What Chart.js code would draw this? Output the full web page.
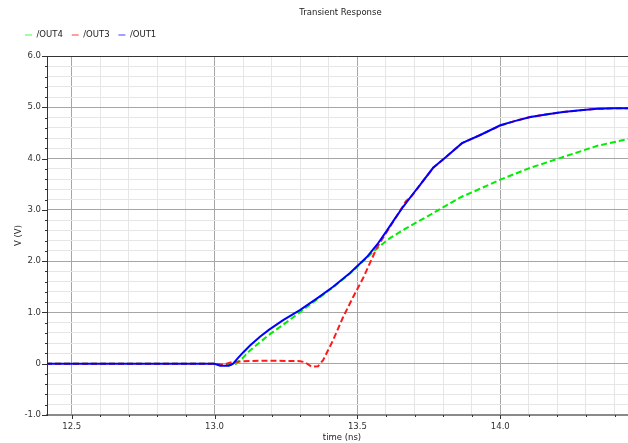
<!DOCTYPE html>
<html>
<head>
<meta charset="utf-8">
<title>Transient Response</title>
<script src="https://cdn.jsdelivr.net/npm/chart.js@4/dist/chart.umd.min.js"></script>
<style>
  html, body { margin: 0; padding: 0; background: #ffffff; }
  #wrap { width: 628px; height: 443px; }
</style>
</head>
<body>
<div id="wrap"><canvas id="c" width="628" height="443"></canvas></div>
<script>
// Simulated node voltages (V) against time (ns)
const timeOut4 = [12.41, 13.00, 13.03, 13.06, 13.075, 13.10, 13.124, 13.19, 13.24, 13.30, 13.36, 13.415, 13.474, 13.51, 13.54, 13.555, 13.58, 13.614, 13.673, 13.754, 13.79, 13.87, 13.905, 14.00, 14.105, 14.22, 14.34, 14.447];
const voltOut4 = [0, 0, -0.02, -0.02, 0, 0.12, 0.26, 0.56, 0.76, 1.01, 1.26, 1.49, 1.76, 1.95, 2.10, 2.18, 2.30, 2.45, 2.65, 2.90, 3.02, 3.27, 3.35, 3.59, 3.82, 4.03, 4.25, 4.38];

const timeOut3 = [12.41, 13.00, 13.03, 13.06, 13.10, 13.20, 13.30, 13.316, 13.34, 13.362, 13.38, 13.415, 13.45, 13.485, 13.52, 13.568, 13.614, 13.64, 13.67, 13.69, 13.72, 13.765, 13.81, 13.866, 13.93, 14.00, 14.05, 14.105, 14.16, 14.22, 14.28, 14.34, 14.40, 14.447];
const voltOut3 = [0, 0, -0.02, 0.03, 0.05, 0.06, 0.05, 0.03, -0.06, -0.05, 0.07, 0.46, 0.91, 1.30, 1.67, 2.26, 2.67, 2.90, 3.17, 3.27, 3.49, 3.82, 4.03, 4.30, 4.46, 4.64, 4.73, 4.81, 4.86, 4.91, 4.94, 4.97, 4.98, 4.98];

const timeOut1 = [12.41, 13.00, 13.02, 13.05, 13.065, 13.08, 13.10, 13.125, 13.16, 13.19, 13.24, 13.30, 13.36, 13.415, 13.474, 13.51, 13.533, 13.57, 13.60, 13.63, 13.66, 13.69, 13.72, 13.765, 13.81, 13.866, 13.93, 14.00, 14.05, 14.105, 14.16, 14.22, 14.28, 14.34, 14.40, 14.447];
const voltOut1 = [0, 0, -0.04, -0.04, 0, 0.10, 0.22, 0.36, 0.53, 0.66, 0.85, 1.05, 1.28, 1.50, 1.77, 1.96, 2.08, 2.33, 2.57, 2.82, 3.06, 3.28, 3.49, 3.82, 4.03, 4.30, 4.46, 4.65, 4.73, 4.81, 4.86, 4.91, 4.94, 4.97, 4.98, 4.98];

const seriesNames = ['/OUT4', '/OUT3', '/OUT1'];
const chartTitle = 'Transient Response';
const xTitle = 'time (ns)';
const yTitle = 'V (V)';

const xMin = 12.4136, xMax = 14.447;
const yMin = -1, yMax = 6;

const FONT = '"DejaVu Sans", "Liberation Sans", sans-serif';
const FONT_SIZE = 8.5;
const lineColors = ['#00ee00', '#ff1a1a', '#0000ff'];
const legendColors = ['#80ff80', '#ff8080', '#8080ff'];

function pts(ts, vs) { return ts.map((t, i) => ({ x: t, y: vs[i] })); }
const near = (a, b) => Math.abs(a - b) < 1e-6;
const isMajorX = v => near(v * 2, Math.round(v * 2));
const isMajorY = v => near(v, Math.round(v));

// Titles, legend, tick marks and the top frame line
const decor = {
  id: 'decor',
  afterDraw(chart) {
    const ctx = chart.ctx;
    const a = chart.chartArea;
    const xs = chart.scales.x, ys = chart.scales.y;
    ctx.save();

    // tick marks (outside the plot)
    ctx.strokeStyle = '#333333';
    ctx.lineWidth = 1;
    xs.ticks.forEach(t => {
      const px = Math.round(xs.getPixelForValue(t.value)) + 0.5;
      const len = isMajorX(t.value) ? 4 : 2;
      ctx.beginPath(); ctx.moveTo(px, a.bottom); ctx.lineTo(px, a.bottom + len); ctx.stroke();
    });
    ys.ticks.forEach(t => {
      const py = Math.round(ys.getPixelForValue(t.value)) + 0.5;
      const len = isMajorY(t.value) ? 5 : 2;
      ctx.beginPath(); ctx.moveTo(a.left - len, py); ctx.lineTo(a.left, py); ctx.stroke();
    });

    // top frame line
    ctx.strokeStyle = '#333333';
    ctx.beginPath(); ctx.moveTo(a.left, Math.round(a.top) + 0.5); ctx.lineTo(a.right, Math.round(a.top) + 0.5); ctx.stroke();

    ctx.fillStyle = '#222222';
    ctx.font = FONT_SIZE + 'px ' + FONT;
    ctx.textBaseline = 'middle';

    // chart title
    ctx.textAlign = 'center';
    ctx.fillText(chartTitle, (a.left + a.right) / 2 + 3, 13);

    // x axis title
    ctx.fillText(xTitle, 342, 438);

    // y axis title
    ctx.save();
    ctx.translate(19, (a.top + a.bottom) / 2);
    ctx.rotate(-Math.PI / 2);
    ctx.fillText(yTitle, 0, 0);
    ctx.restore();

    // legend
    ctx.textAlign = 'left';
    seriesNames.forEach((name, i) => {
      const x0 = 25 + i * 46.7;
      ctx.strokeStyle = legendColors[i];
      ctx.lineWidth = 1.5;
      ctx.beginPath(); ctx.moveTo(x0, 35); ctx.lineTo(x0 + 7, 35); ctx.stroke();
      ctx.fillStyle = '#222222';
      ctx.fillText(name, x0 + 11.5, 35);
    });

    ctx.restore();
  }
};

new Chart(document.getElementById('c'), {
  type: 'line',
  data: {
    datasets: [
      { label: seriesNames[0], data: pts(timeOut4, voltOut4), borderColor: lineColors[0], borderWidth: 2, borderDash: [6, 3], order: 2 },
      { label: seriesNames[1], data: pts(timeOut3, voltOut3), borderColor: lineColors[1], borderWidth: 2, borderDash: [6, 3], order: 1 },
      { label: seriesNames[2], data: pts(timeOut1, voltOut1), borderColor: lineColors[2], borderWidth: 2, order: 0 }
    ]
  },
  options: {
    responsive: false,
    animation: false,
    devicePixelRatio: 1,
    elements: { point: { radius: 0 }, line: { tension: 0, borderCapStyle: 'butt' } },
    layout: { padding: { top: 56, left: 0, right: 0, bottom: 0 } },
    plugins: { legend: { display: false }, title: { display: false }, tooltip: { enabled: false } },
    scales: {
      x: {
        type: 'linear',
        min: xMin, max: xMax,
        afterFit(s) { s.height = 28; },
        ticks: {
          stepSize: 0.1, includeBounds: false, autoSkip: false, maxRotation: 0, padding: 7,
          font: { family: FONT, size: FONT_SIZE }, color: '#333333',
          callback: v => isMajorX(v) ? v.toFixed(1) : ''
        },
        grid: {
          drawTicks: false,
          color: c => isMajorX(c.tick.value) ? '#a6a6a6' : '#e6e6e6',
          lineWidth: 1
        },
        border: { display: true, color: '#8a8a8a', width: 2 }
      },
      y: {
        type: 'linear',
        min: yMin, max: yMax,
        afterFit(s) { s.width = 47; },
        ticks: {
          stepSize: 0.2, includeBounds: false, autoSkip: false, padding: 6,
          font: { family: FONT, size: FONT_SIZE }, color: '#333333',
          callback: v => isMajorY(v) ? (near(v, 0) ? '0' : v.toFixed(1)) : ''
        },
        grid: {
          drawTicks: false,
          color: c => isMajorY(c.tick.value) ? '#a6a6a6' : '#e6e6e6',
          lineWidth: 1
        },
        border: { display: true, color: '#333333', width: 1 }
      }
    }
  },
  plugins: [decor]
});
</script>
</body>
</html>
